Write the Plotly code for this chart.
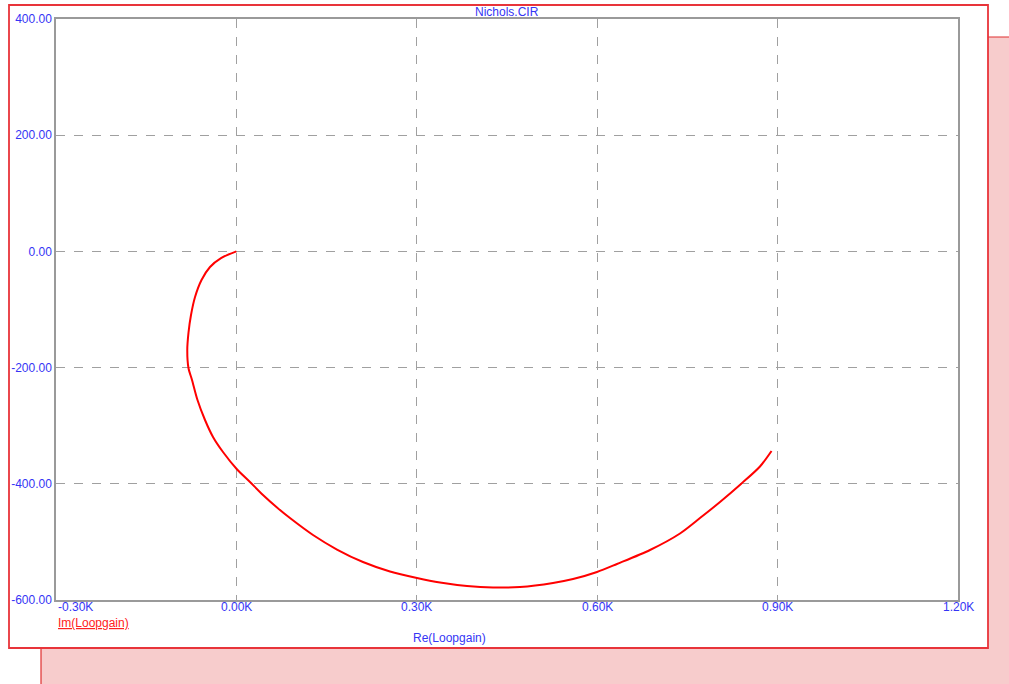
import plotly.graph_objects as go

# Loop gain trace (real / imaginary parts)
re_loopgain = [0, -25.6, -43.9, -58.0, -68.8, -75.5, -79.7, -81.7, -79.7, -73.8, -64.7, -52.2,
               -38.9, -22.3, 0.5, 22.6, 44.2, 67.5, 89.1, 127.4, 167.3, 210.5, 255.4, 300.3,
               338.6, 383.5, 426.7, 471.6, 526.5, 559.8, 599.7, 632.9, 687.8, 737.7, 770.9,
               804.2, 839.1, 870.7, 889.9]
im_loopgain = [0, -11.4, -26.8, -49.2, -78.5, -109.5, -140.4, -169.7, -200.7, -221.3, -255.8,
               -290.2, -319.4, -345.3, -374.5, -396.9, -419.3, -440.8, -458.9, -488.1, -513.1,
               -534.6, -550.9, -562.1, -569.9, -575.9, -578.5, -577.6, -570.7, -563.9, -551.8,
               -538.0, -513.9, -485.5, -459.0, -431.3, -400.3, -370.2, -343.5]

x_ticks = [-300, 0, 300, 600, 900, 1200]
x_tick_labels = ["-0.30K", "0.00K", "0.30K", "0.60K", "0.90K", "1.20K"]
y_ticks = [-600, -400, -200, 0, 200, 400]
y_tick_labels = ["-600.00", "-400.00", "-200.00", "0.00", "200.00", "400.00"]

W, H = 1009, 684
L, R, T, B = 56, 51, 19, 84
PW, PH = W - L - R, H - T - B


def px_x(p):
    return (p - L) / PW


def px_y(p):
    return (H - B - p) / PH


blue = "#3535f5"
font = "Liberation Sans, Arial, sans-serif"

fig = go.Figure()
fig.add_trace(go.Scatter(x=re_loopgain, y=im_loopgain, mode="lines",
                         line=dict(color="#ff0000", width=2, shape="spline", smoothing=0.8),
                         hoverinfo="skip", showlegend=False))

shapes = [
    # drop shadow behind the chart panel
    dict(type="rect", xref="paper", yref="paper", layer="below",
         x0=px_x(41), x1=px_x(1015), y0=px_y(37), y1=px_y(690),
         fillcolor="#f7cccc", line=dict(color="#e03030", width=1.2)),
    # chart panel
    dict(type="rect", xref="paper", yref="paper", layer="below",
         x0=px_x(9), x1=px_x(988), y0=px_y(5), y1=px_y(648),
         fillcolor="#ffffff", line=dict(color="#e8343a", width=1.8)),
]

annotations = [
    dict(text="Nichols.CIR", xref="paper", yref="paper", x=px_x(507), y=px_y(12),
         xanchor="center", yanchor="middle", showarrow=False,
         font=dict(family=font, size=12, color=blue)),
    dict(text="<u>Im(Loopgain)</u>", xref="paper", yref="paper", x=px_x(56), y=px_y(623),
         xanchor="left", yanchor="middle", showarrow=False,
         font=dict(family=font, size=12, color="#ff2020")),
    dict(text="Re(Loopgain)", xref="paper", yref="paper", x=px_x(411), y=px_y(638),
         xanchor="left", yanchor="middle", showarrow=False,
         font=dict(family=font, size=12, color=blue)),
]
for i, (v, t) in enumerate(zip(x_ticks, x_tick_labels)):
    annotations.append(dict(text=t, xref="x", yref="paper", x=v, y=px_y(607),
                            xanchor="left" if i == 0 else "center", yanchor="middle",
                            showarrow=False, font=dict(family=font, size=12, color=blue)))

fig.update_layout(
    width=W, height=H,
    margin=dict(l=L, r=R, t=T, b=B),
    paper_bgcolor="#ffffff", plot_bgcolor="#ffffff",
    shapes=shapes, annotations=annotations,
    xaxis=dict(range=[-300, 1200], tickvals=x_ticks, showticklabels=False,
               showgrid=True, gridcolor="#a0a0a0", griddash="dash", gridwidth=1,
               zeroline=False, showline=True, mirror=True, linecolor="#9a9a9a", linewidth=1.5,
               ticks=""),
    yaxis=dict(range=[-600, 400], tickvals=y_ticks, ticktext=y_tick_labels,
               tickfont=dict(family=font, size=12, color=blue),
               showgrid=True, gridcolor="#a0a0a0", griddash="dash", gridwidth=1,
               zeroline=False, showline=True, mirror=True, linecolor="#9a9a9a", linewidth=1.5,
               ticks="", ticklabelstandoff=0),
)

fig.write_html("out.html")
